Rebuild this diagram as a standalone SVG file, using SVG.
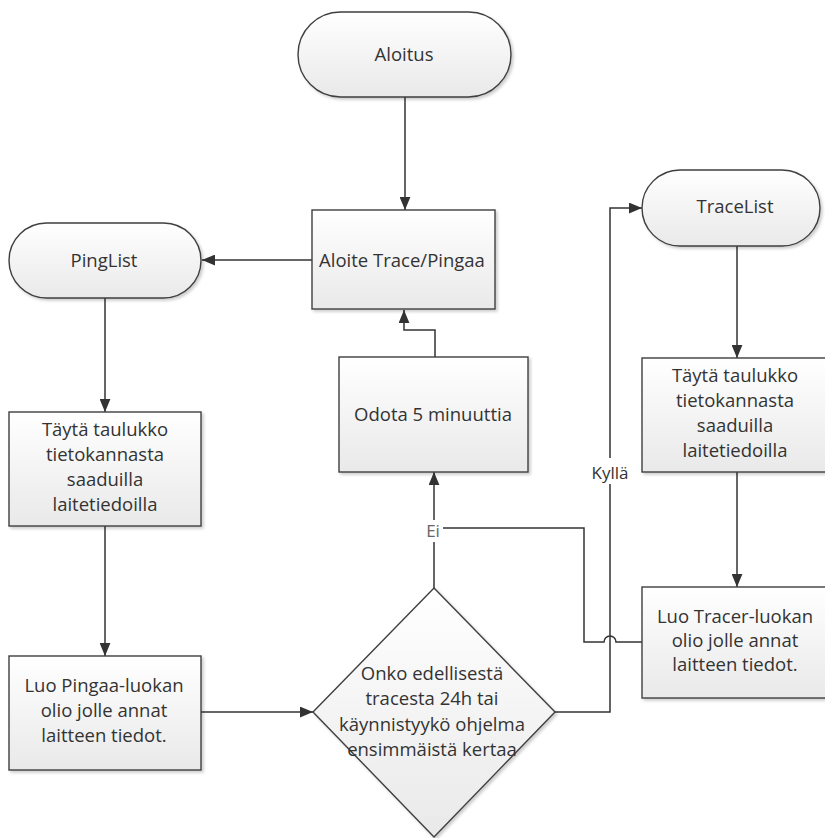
<svg xmlns="http://www.w3.org/2000/svg" width="825" height="838" viewBox="0 0 825 838">
<defs>
<linearGradient id="g" x1="0" y1="0" x2="0" y2="1">
<stop offset="0" stop-color="#ffffff"/>
<stop offset="1" stop-color="#e9e9e9"/>
</linearGradient>
<filter id="sh" x="-10%" y="-10%" width="130%" height="130%">
<feDropShadow dx="2" dy="2" stdDeviation="1.5" flood-color="#000" flood-opacity="0.2"/>
</filter>
<marker id="ah" viewBox="0 0 12 10" refX="12" refY="5" markerWidth="13" markerHeight="11" markerUnits="userSpaceOnUse" orient="auto">
<path d="M0,0 L12,5 L0,10 z" fill="#333"/>
</marker>
<style>
.n{fill:url(#g);stroke:#3f3f3f;stroke-width:1.4;filter:url(#sh)}
.t{font-family:"Open Sans","Noto Sans",sans-serif;font-size:18.5px;fill:#333;text-anchor:middle}
.c{fill:none;stroke:#333;stroke-width:1.5}
.a{marker-end:url(#ah)}
.bg{fill:#fff}
</style>
</defs>
<rect width="825" height="838" fill="#fff"/>
<g id="connectors">
<path class="c a" d="M405,97 V210"/>
<path class="c a" d="M312,260 H202"/>
<path class="c a" d="M105,298 V412"/>
<path class="c a" d="M105,526 V656"/>
<path class="c a" d="M201,712 H313"/>
<path class="c a" d="M434,588 V472"/>
<path class="c a" d="M435,357 V330 H404 V310"/>
<path class="c a" d="M554,712 H610 V208 H642"/>
<path class="c a" d="M737,246 V358"/>
<path class="c a" d="M737,472 V587"/>
<path class="c" d="M642,642 H616 A6,6 0 0 0 604,642 H584 V528 H434"/>
<rect class="bg" x="425" y="520" width="18" height="22"/>
<text class="t" x="433" y="537" style="font-size:17px;fill:#666">Ei</text>
<rect class="bg" x="590" y="458" width="40" height="26"/>
<text class="t" x="610" y="479" style="font-size:17px">Kyllä</text>
</g>
<g id="aloitus">
<rect class="n" x="298" y="12" width="213" height="85" rx="42.5"/>
<text class="t" x="404" y="61">Aloitus</text>
</g>
<g id="aloite">
<rect class="n" x="312" y="210" width="183" height="99"/>
<text class="t" x="402" y="267">Aloite Trace/Pingaa</text>
</g>
<g id="pinglist">
<rect class="n" x="9" y="223" width="192" height="75" rx="37.5"/>
<text class="t" x="104" y="267">PingList</text>
</g>
<g id="tracelist">
<rect class="n" x="642" y="170" width="178" height="76" rx="38"/>
<text class="t" x="735" y="213">TraceList</text>
</g>
<g id="odota">
<rect class="n" x="339" y="357" width="189" height="115"/>
<text class="t" x="433" y="421">Odota 5 minuuttia</text>
</g>
<g id="taytaPing">
<rect class="n" x="9" y="412" width="192" height="114"/>
<text class="t" x="105" y="436">Täytä taulukko</text>
<text class="t" x="105" y="461">tietokannasta</text>
<text class="t" x="105" y="486">saaduilla</text>
<text class="t" x="105" y="511">laitetiedoilla</text>
</g>
<g id="taytaTrace">
<rect class="n" x="642" y="358" width="188" height="114"/>
<text class="t" x="735" y="382">Täytä taulukko</text>
<text class="t" x="735" y="407">tietokannasta</text>
<text class="t" x="735" y="432">saaduilla</text>
<text class="t" x="735" y="457">laitetiedoilla</text>
</g>
<g id="luoPingaa">
<rect class="n" x="9" y="656" width="192" height="114"/>
<text class="t" x="104" y="692">Luo Pingaa-luokan</text>
<text class="t" x="104" y="717">olio jolle annat</text>
<text class="t" x="104" y="742">laitteen tiedot.</text>
</g>
<g id="luoTracer">
<rect class="n" x="642" y="587" width="188" height="111"/>
<text class="t" x="735" y="623">Luo Tracer-luokan</text>
<text class="t" x="735" y="647">olio jolle annat</text>
<text class="t" x="735" y="671">laitteen tiedot.</text>
</g>
<g id="paatos">
<path class="n" d="M434,588 L555,712 L434,837 L313,712 Z"/>
<text class="t" x="432" y="680">Onko edellisestä</text>
<text class="t" x="432" y="705">tracesta 24h tai</text>
<text class="t" x="432" y="731">käynnistyykö ohjelma</text>
<text class="t" x="432" y="756">ensimmäistä kertaa</text>
</g>
</svg>
